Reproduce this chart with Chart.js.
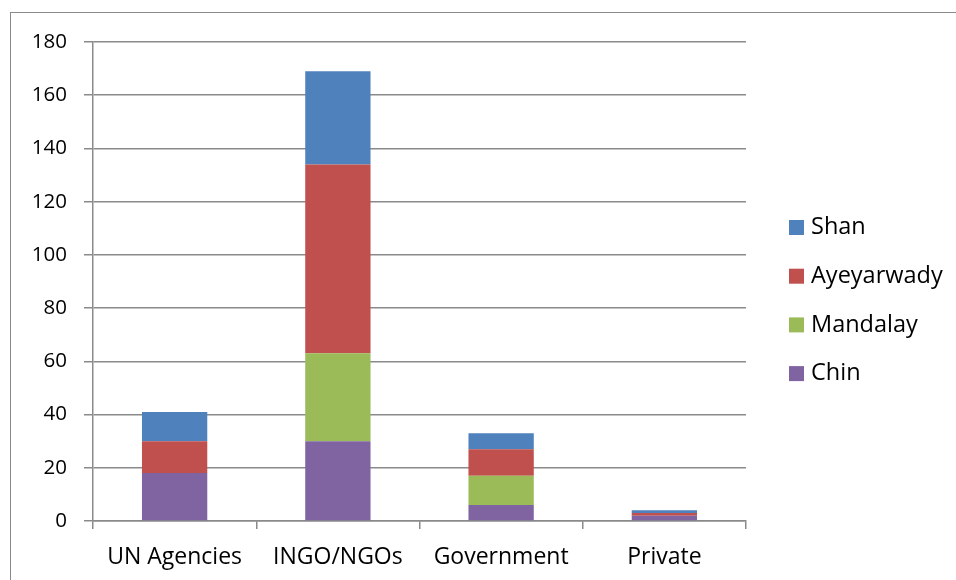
<!DOCTYPE html>
<html><head><meta charset="utf-8">
<script src="https://cdn.jsdelivr.net/npm/chart.js@4"></script>
<style>
html,body{margin:0;padding:0;background:#fff;}
#wrap{position:relative;width:956px;height:580px;}
#frame{position:absolute;left:10px;top:12px;width:960px;height:600px;border:1.5px solid #8a8a8a;box-sizing:border-box;}
canvas{position:absolute;left:0;top:0;}
</style></head>
<body><div id="wrap"><div id="frame"></div><canvas id="c" width="956" height="580"></canvas></div>
<script>
const categories = ["UN Agencies", "INGO/NGOs", "Government", "Private"];
const chin = [18, 30, 6, 2];
const mandalay = [0, 33, 11, 0];
const ayeyarwady = [12, 71, 10, 1];
const shan = [11, 35, 6, 1];
const yTicks = [0, 20, 40, 60, 80, 100, 120, 140, 160, 180];

const FONT = "'Open Sans', sans-serif";
const legendPlugin = {
  id: 'customLegend',
  afterDraw(chart) {
    const ctx = chart.ctx;
    const ds = chart.data.datasets.slice().reverse();
    ctx.save();
    ctx.font = "23.5px " + FONT;
    ctx.textBaseline = 'middle';
    ctx.textAlign = 'left';
    ds.forEach((d, i) => {
      const y = 227.5 + i * 48.7;
      ctx.fillStyle = d.backgroundColor;
      ctx.fillRect(789, y - 7.5, 15, 15);
      ctx.fillStyle = '#000';
      ctx.fillText(d.label, 811, y);
    });
    ctx.restore();
  }
};

new Chart(document.getElementById('c'), {
  type: 'bar',
  data: {
    labels: categories,
    datasets: [
      { label: 'Chin', data: chin, backgroundColor: '#8064A2' },
      { label: 'Mandalay', data: mandalay, backgroundColor: '#9BBB59' },
      { label: 'Ayeyarwady', data: ayeyarwady, backgroundColor: '#C0504D' },
      { label: 'Shan', data: shan, backgroundColor: '#4F81BD' }
    ]
  },
  options: {
    responsive: false,
    animation: false,
    layout: { padding: { top: 42, right: 210, left: 0, bottom: 0 } },
    datasets: { bar: { categoryPercentage: 1, barPercentage: 0.4, borderWidth: 0 } },
    plugins: { legend: { display: false }, tooltip: { enabled: false } },
    scales: {
      x: {
        stacked: true,
        afterFit(s) { s.height = 59; },
        grid: { display: true, offset: true, drawOnChartArea: false, drawTicks: true, tickLength: 8, color: '#8a8a8a', lineWidth: 1.5 },
        border: { display: true, color: '#8a8a8a', width: 1.5 },
        ticks: { color: '#000', font: { family: FONT, size: 23 }, padding: 15, maxRotation: 0 }
      },
      y: {
        stacked: true,
        min: 0, max: 180,
        afterFit(s) { s.width = 93; },
        afterBuildTicks(s) { s.ticks = yTicks.map(v => ({ value: v })); },
        grid: { color: '#8a8a8a', lineWidth: 1.5, drawTicks: true, tickLength: 9 },
        border: { display: true, color: '#8a8a8a', width: 1.5 },
        ticks: { color: '#000', font: { family: FONT, size: 20.5 }, padding: 17 }
      }
    }
  },
  plugins: [legendPlugin]
});
</script></body></html>
